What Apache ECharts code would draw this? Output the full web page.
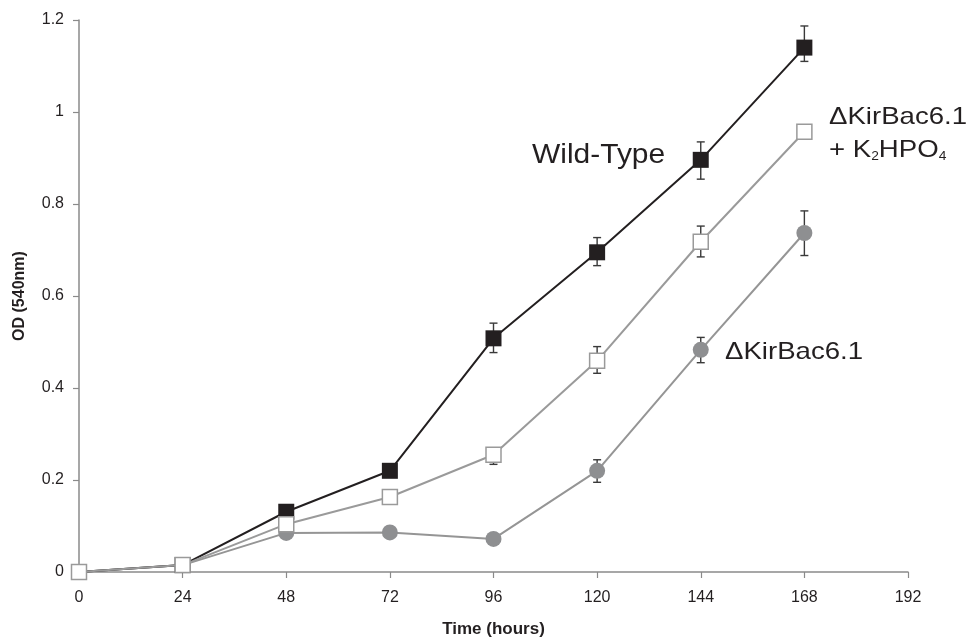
<!DOCTYPE html>
<html><head><meta charset="utf-8">
<script src="https://cdn.jsdelivr.net/npm/echarts@6/dist/echarts.min.js"></script>
<style>html,body{margin:0;padding:0;background:#fff;overflow:hidden}#c{width:970px;height:643px}</style>
</head><body><div id="c"></div>
<script>
const time = [0, 24, 48, 72, 96, 120, 144, 168];
const xTicks = [0, 24, 48, 72, 96, 120, 144, 168, 192];
const yTicks = [0, 0.2, 0.4, 0.6, 0.8, 1, 1.2];

const wildType = [0, 0.015, 0.131, 0.22, 0.508, 0.695, 0.896, 1.14];
const wildTypeLow = [null, null, null, null, 0.477, 0.666, 0.854, 1.11];
const wildTypeHigh = [null, null, null, null, 0.541, 0.727, 0.935, 1.187];

const kirK2 = [0, 0.015, 0.104, 0.163, 0.255, 0.459, 0.718, 0.957];
const kirK2Low = [null, null, null, null, 0.234, 0.432, 0.685, null];
const kirK2High = [null, null, null, null, 0.27, 0.49, 0.752, null];

const kir = [0, 0.015, 0.085, 0.086, 0.072, 0.22, 0.483, 0.737];
const kirLow = [null, null, null, null, null, 0.195, 0.455, 0.688];
const kirHigh = [null, null, null, null, null, 0.244, 0.51, 0.785];

const labelWT = 'Wild-Type';
const labelKir = 'ΔKirBac6.1';

const FONT = '"Liberation Sans", Arial, sans-serif';

function pairs(ys){ return time.map((t,i)=>[t, ys[i]]); }
function errData(lo, hi){
  const out = [];
  time.forEach((t,i)=>{ if (lo[i]!=null && hi[i]!=null) out.push([t, lo[i], hi[i]]); });
  return out;
}
function errSeries(lo, hi){
  return {
    type: 'custom', z: 1, silent: true,
    data: errData(lo, hi),
    encode: {x: 0, y: [1, 2]},
    renderItem: function(params, api){
      const x = api.value(0);
      const p1 = api.coord([x, api.value(1)]);
      const p2 = api.coord([x, api.value(2)]);
      const w = 4;
      const st = {stroke: '#3a3a3a', lineWidth: 1.4};
      return {type: 'group', children: [
        {type: 'line', shape: {x1: p1[0], y1: p1[1], x2: p2[0], y2: p2[1]}, style: st},
        {type: 'line', shape: {x1: p1[0]-w, y1: p1[1], x2: p1[0]+w, y2: p1[1]}, style: st},
        {type: 'line', shape: {x1: p2[0]-w, y1: p2[1], x2: p2[0]+w, y2: p2[1]}, style: st}
      ]};
    }
  };
}

const chart = echarts.init(document.getElementById('c'), null, {renderer: 'canvas'});
chart.setOption({
  animation: false,
  backgroundColor: '#fff',
  grid: {left: 79, right: 62, top: 20, bottom: 65.5, containLabel: false},
  xAxis: {
    type: 'value', min: xTicks[0], max: xTicks[xTicks.length-1], interval: 24,
    name: 'Time (hours)', nameLocation: 'middle', nameGap: 49,
    nameTextStyle: {fontFamily: FONT, fontWeight: 'bold', fontSize: 17, color: '#231f20'},
    axisLine: {lineStyle: {color: '#8a8a8a', width: 1.5}},
    axisTick: {inside: false, length: 6, lineStyle: {color: '#8a8a8a', width: 1.2}},
    axisLabel: {fontFamily: FONT, fontSize: 16, color: '#231f20', margin: 18},
    splitLine: {show: false}
  },
  yAxis: {
    type: 'value', min: yTicks[0], max: yTicks[yTicks.length-1], interval: 0.2,
    name: 'OD (540nm)', nameLocation: 'middle', nameGap: 51,
    nameTextStyle: {fontFamily: FONT, fontWeight: 'bold', fontSize: 16, color: '#231f20'},
    axisLine: {show: true, lineStyle: {color: '#8a8a8a', width: 1.5}},
    axisTick: {show: true, inside: false, length: 6, lineStyle: {color: '#8a8a8a', width: 1.2}},
    axisLabel: {fontFamily: FONT, fontSize: 16, color: '#231f20', margin: 15,
      formatter: v => String(Math.round(v*10)/10)},
    splitLine: {show: false}
  },
  series: [
    errSeries(kirLow, kirHigh),
    errSeries(wildTypeLow, wildTypeHigh),
    errSeries(kirK2Low, kirK2High),
    {
      name: labelKir, type: 'line', z: 2, data: pairs(kir),
      symbol: 'circle', symbolSize: 16,
      lineStyle: {color: '#959595', width: 2},
      itemStyle: {color: '#8e8f91', borderWidth: 0}
    },
    {
      name: labelWT, type: 'line', z: 3, data: pairs(wildType),
      symbol: 'rect', symbolSize: 16,
      lineStyle: {color: '#231f20', width: 2},
      itemStyle: {color: '#231f20', borderWidth: 0}
    },
    {
      name: labelKir + ' + K2HPO4', type: 'line', z: 4, data: pairs(kirK2),
      symbol: 'rect', symbolSize: 15,
      lineStyle: {color: '#9a9a9a', width: 2},
      itemStyle: {color: '#ffffff', borderColor: '#9a9a9a', borderWidth: 1.5}
    }
  ],
  graphic: [
    {type: 'text', x: 532, y: 155, scaleX: 1.07, z: 10,
     style: {text: labelWT, fontFamily: FONT, fontSize: 28, fill: '#231f20', align: 'left', verticalAlign: 'middle'}},
    {type: 'text', x: 829, y: 117, scaleX: 1.15, z: 10,
     style: {text: labelKir, fontFamily: FONT, fontSize: 24, fill: '#231f20', align: 'left', verticalAlign: 'middle'}},
    {type: 'text', x: 829, y: 150, scaleX: 1.15, z: 10,
     style: {text: '+ K{sub|2}HPO{sub|4}', fontFamily: FONT, fontSize: 24, fill: '#231f20', align: 'left', verticalAlign: 'middle',
       rich: {sub: {fontFamily: FONT, fontSize: 12, fill: '#231f20', padding: [13, 0, 0, 0]}}}},
    {type: 'text', x: 725, y: 352, scaleX: 1.15, z: 10,
     style: {text: labelKir, fontFamily: FONT, fontSize: 24, fill: '#231f20', align: 'left', verticalAlign: 'middle'}}
  ]
});
</script>
</body></html>
